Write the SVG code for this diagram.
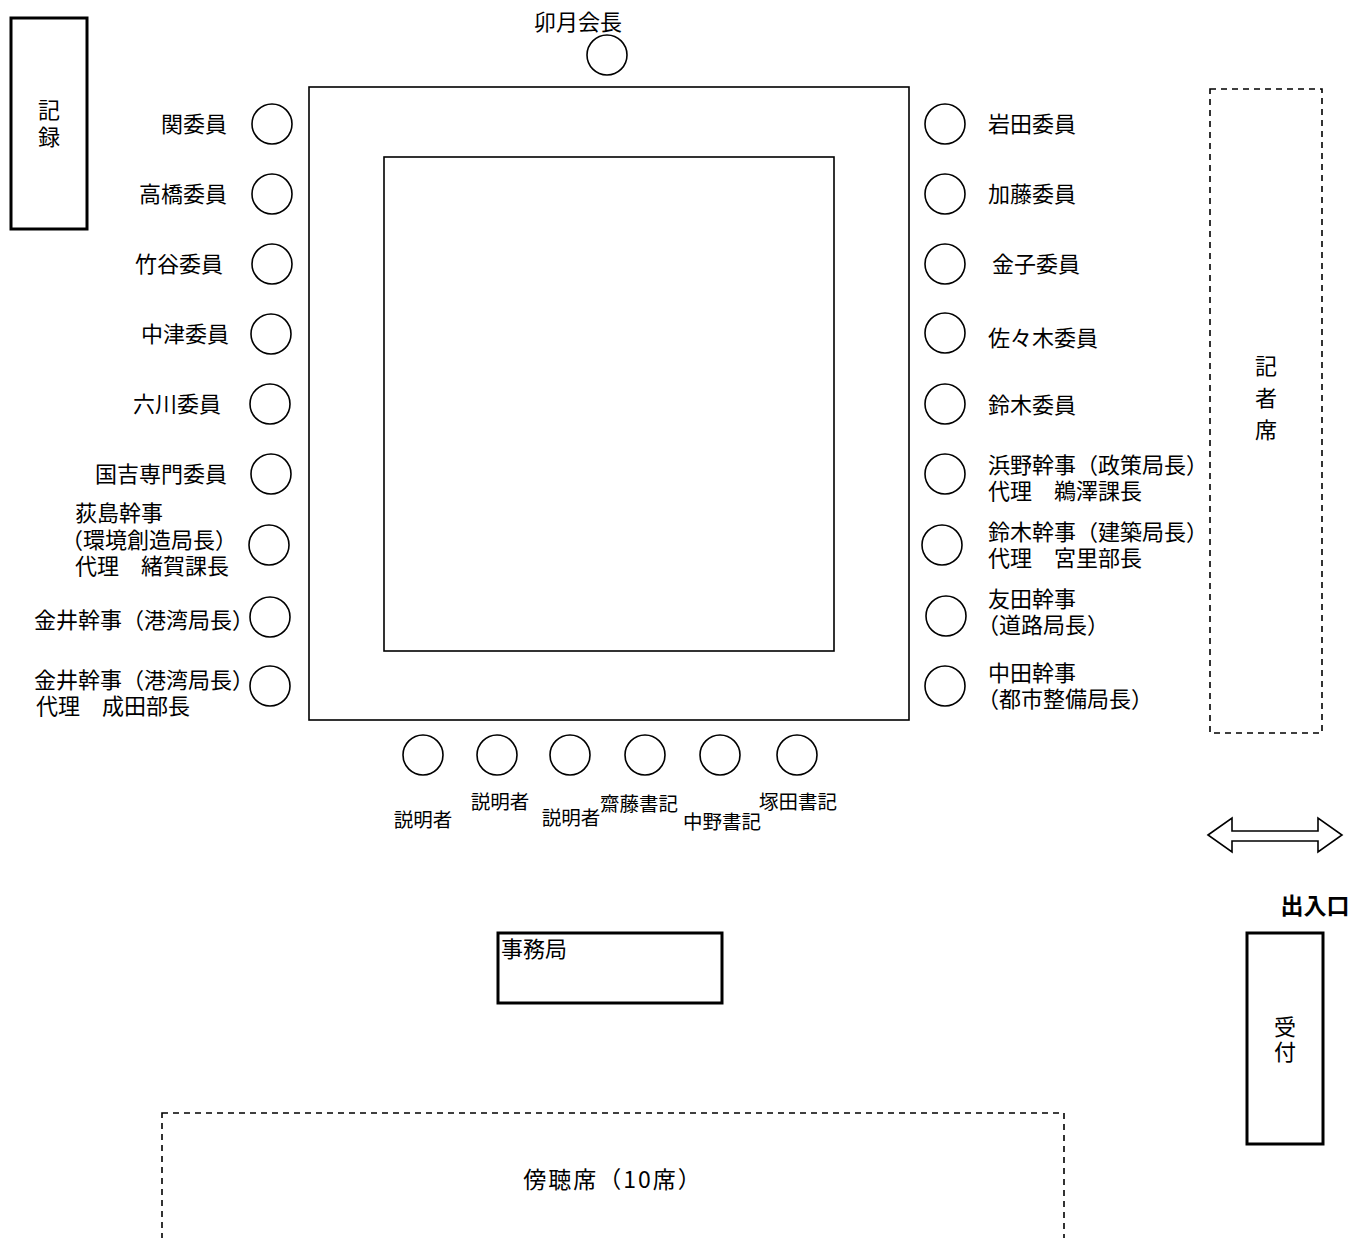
<svg xmlns="http://www.w3.org/2000/svg" width="1352" height="1238" viewBox="0 0 1352 1238">
<style>
text{font-family:"Noto Sans CJK JP","Noto Sans",sans-serif;font-size:22px;fill:#000}
.s{font-size:19.5px}
.v{writing-mode:vertical-rl;text-anchor:middle}
.seat{fill:#fff;stroke:#000;stroke-width:1.6}
.box{fill:#fff;stroke:#000;stroke-width:3}
.dash{fill:none;stroke:#000;stroke-width:1.6;stroke-dasharray:6 5}
.r{text-anchor:end}
.m{text-anchor:middle}
</style>
<rect width="1352" height="1238" fill="#fff"/>
<g id="record"><rect class="box" x="11" y="18" width="76" height="211"/><text class="v" x="49" y="126" style="letter-spacing:5px">記録</text></g>
<g id="table"><rect x="309" y="87" width="600" height="633" fill="none" stroke="#000" stroke-width="1.6"/><rect x="384" y="157" width="450" height="494" fill="none" stroke="#000" stroke-width="1.6"/></g>
<g id="chair"><circle class="seat" cx="607" cy="55" r="20"/><text class="m" x="578" y="30">卯月会長</text></g>
<g id="left">
<circle class="seat" cx="272" cy="124" r="20"/><text class="r" x="227" y="132">関委員</text>
<circle class="seat" cx="272" cy="194" r="20"/><text class="r" x="227" y="202">高橋委員</text>
<circle class="seat" cx="272" cy="264" r="20"/><text class="r" x="223" y="272">竹谷委員</text>
<circle class="seat" cx="271" cy="334" r="20"/><text class="r" x="229" y="342">中津委員</text>
<circle class="seat" cx="270" cy="404" r="20"/><text class="r" x="221" y="412">六川委員</text>
<circle class="seat" cx="271" cy="474" r="20"/><text class="r" x="227" y="482">国吉専門委員</text>
<circle class="seat" cx="269" cy="545" r="20"/><text x="74" y="521"><tspan x="75">荻島幹事</tspan><tspan x="61" dy="26.5">（環境創造局長）</tspan><tspan x="75" dy="26.5">代理　緒賀課長</tspan></text>
<circle class="seat" cx="270" cy="617" r="20"/><text x="34" y="628">金井幹事（港湾局長）</text>
<circle class="seat" cx="270" cy="686" r="20"/><text x="36" y="688"><tspan x="34">金井幹事（港湾局長）</tspan><tspan x="36" dy="26">代理　成田部長</tspan></text>
</g>
<g id="right">
<circle class="seat" cx="945" cy="124" r="20"/><text x="988" y="132">岩田委員</text>
<circle class="seat" cx="945" cy="194" r="20"/><text x="988" y="202">加藤委員</text>
<circle class="seat" cx="945" cy="264" r="20"/><text x="992" y="272">金子委員</text>
<circle class="seat" cx="945" cy="333" r="20"/><text x="988" y="346">佐々木委員</text>
<circle class="seat" cx="945" cy="404" r="20"/><text x="988" y="413">鈴木委員</text>
<circle class="seat" cx="945" cy="474" r="20"/><text x="988" y="473"><tspan x="988">浜野幹事（政策局長）</tspan><tspan x="988" dy="26">代理　鵜澤課長</tspan></text>
<circle class="seat" cx="942" cy="545" r="20"/><text x="988" y="540"><tspan x="988">鈴木幹事（建築局長）</tspan><tspan x="988" dy="26">代理　宮里部長</tspan></text>
<circle class="seat" cx="946" cy="616" r="20"/><text x="988" y="607"><tspan x="988">友田幹事</tspan><tspan x="977" dy="26">（道路局長）</tspan></text>
<circle class="seat" cx="945" cy="686" r="20"/><text x="988" y="681"><tspan x="988">中田幹事</tspan><tspan x="977" dy="26">（都市整備局長）</tspan></text>
</g>
<g id="bottom">
<circle class="seat" cx="423" cy="755" r="20"/><text class="s m" x="423" y="827">説明者</text>
<circle class="seat" cx="497" cy="755" r="20"/><text class="s m" x="500" y="809">説明者</text>
<circle class="seat" cx="570" cy="755" r="20"/><text class="s m" x="571" y="825">説明者</text>
<circle class="seat" cx="645" cy="755" r="20"/><text class="s m" x="639" y="811">齋藤書記</text>
<circle class="seat" cx="720" cy="755" r="20"/><text class="s m" x="722" y="829">中野書記</text>
<circle class="seat" cx="797" cy="755" r="20"/><text class="s m" x="798" y="809">塚田書記</text>
</g>
<g id="press"><rect class="dash" x="1210" y="89" width="112" height="644"/><text class="v" x="1266" y="403" style="letter-spacing:10px">記者席</text></g>
<g id="entrance"><path d="M1208 835 L1232 818 L1232 831 L1318 831 L1318 818 L1342 835 L1318 852 L1318 841 L1232 841 L1232 852 Z" fill="#fff" stroke="#000" stroke-width="1.6" stroke-linejoin="miter"/><text class="m" x="1315" y="914" font-weight="bold" style="font-size:23px">出入口</text></g>
<g id="reception"><rect class="box" x="1247" y="933" width="76" height="211"/><text class="v" x="1285" y="1041" style="letter-spacing:3px">受付</text></g>
<g id="office"><rect class="box" x="498" y="933" width="224" height="70"/><text x="501" y="957">事務局</text></g>
<g id="gallery"><rect class="dash" x="162" y="1113" width="902" height="140"/><text class="m" x="613" y="1188" style="font-size:23px;letter-spacing:2px">傍聴席（10席）</text></g>
<g id="connectors"/>
</svg>
